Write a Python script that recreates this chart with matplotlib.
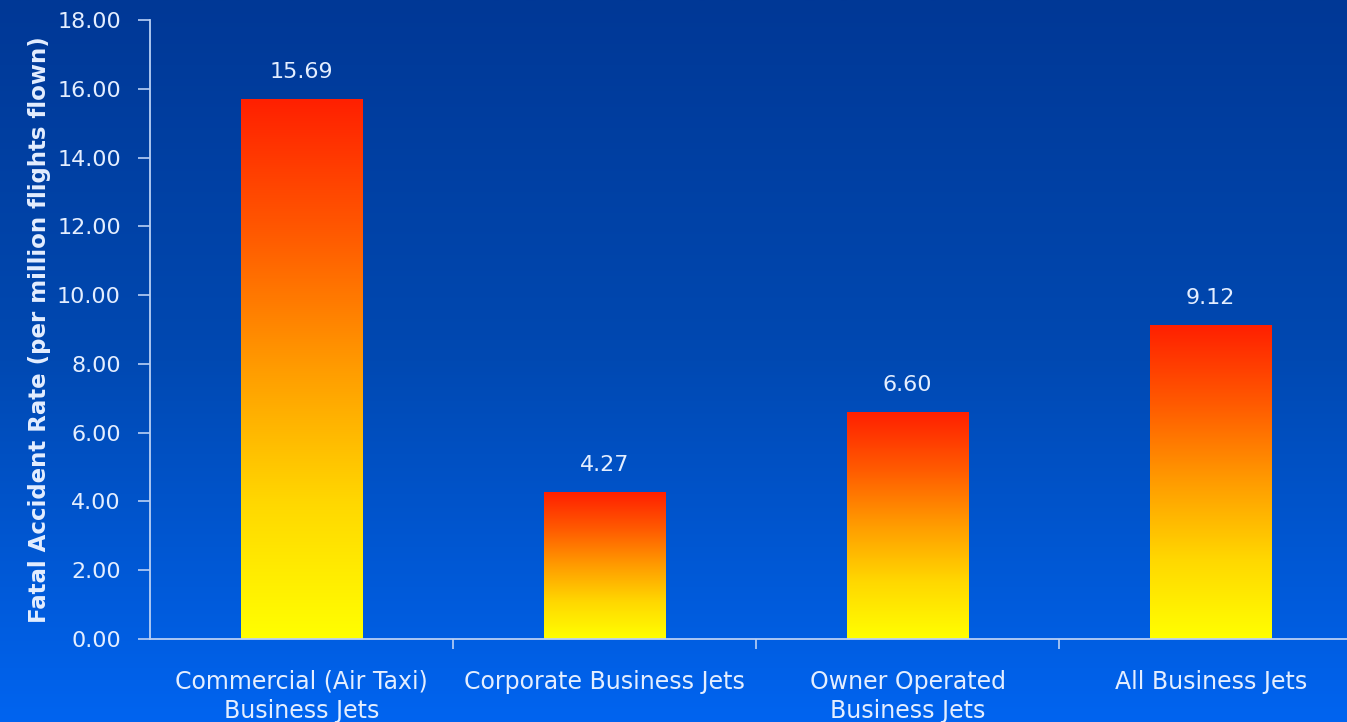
#!/usr/bin/env python3
"""Fatal accident rate by business jet operation type (bar chart, gradient style)."""

import matplotlib
matplotlib.use("Agg")
import matplotlib.pyplot as plt
import numpy as np
from matplotlib.colors import LinearSegmentedColormap

# ---------------------------------------------------------------------------
# Data
# ---------------------------------------------------------------------------
categories = [
    "Commercial (Air Taxi)\nBusiness Jets",
    "Corporate Business Jets",
    "Owner Operated\nBusiness Jets",
    "All Business Jets",
]
rates = [15.69, 4.27, 6.60, 9.12]
y_ticks = [0, 2, 4, 6, 8, 10, 12, 14, 16, 18]

TEXT = "#e4eeff"
AXIS = "#b9d0f5"

plt.rcParams["font.family"] = ["DejaVu Sans"]

fig = plt.figure(figsize=(13.47, 7.22), dpi=100)

# background: dark blue at top to brighter blue at bottom
bg = fig.add_axes([0, 0, 1, 1], zorder=0)
bg_cmap = LinearSegmentedColormap.from_list("bg", ["#0064f0", "#0049b2", "#003896"])
bg.imshow(np.linspace(0, 1, 256).reshape(-1, 1), cmap=bg_cmap, aspect="auto",
          origin="lower", extent=[0, 1, 0, 1])
bg.set_axis_off()

ax = fig.add_axes([0.1114, 0.115, 0.8886, 0.8573], zorder=1)
ax.patch.set_alpha(0)

bar_cmap = LinearSegmentedColormap.from_list(
    "bar", ["#ffff00", "#ffd800", "#ff9c00", "#ff5a00", "#ff2000"])
grad = np.linspace(0, 1, 256).reshape(-1, 1)

x = np.arange(len(categories))
width = 0.4
bars = ax.bar(x, rates, width=width, color="none", edgecolor="none")
for b, v in zip(bars, rates):
    x0 = b.get_x()
    ax.imshow(grad, cmap=bar_cmap, aspect="auto", origin="lower",
              extent=[x0, x0 + b.get_width(), 0, v], zorder=2)
    ax.text(b.get_x() + b.get_width() / 2, v + 0.5, f"{v:.2f}",
            ha="center", va="bottom", color=TEXT, fontsize=16)

ax.set_xlim(-0.5, 3.45)
ax.set_ylim(0, 18)
ax.set_yticks(y_ticks)
ax.set_yticklabels([f"{t:.2f}" for t in y_ticks], color=TEXT, fontsize=16)

ax.set_xticks(x)
ax.set_xticklabels(categories, color=TEXT, fontsize=17, linespacing=1.3)
ax.set_xticks([0.5, 1.5, 2.5], minor=True)
ax.tick_params(axis="x", which="major", length=0, pad=22)
ax.tick_params(axis="x", which="minor", length=7, color=AXIS, width=1.2)
ax.tick_params(axis="y", length=9, color=AXIS, width=1.2, pad=12)

ax.set_ylabel("Fatal Accident Rate (per million flights flown)",
              color=TEXT, fontsize=16.5, fontweight="bold", labelpad=4)

for side in ("top", "right"):
    ax.spines[side].set_visible(False)
for side in ("left", "bottom"):
    ax.spines[side].set_color(AXIS)
    ax.spines[side].set_linewidth(1.3)

fig.savefig("out.png", dpi=100)
